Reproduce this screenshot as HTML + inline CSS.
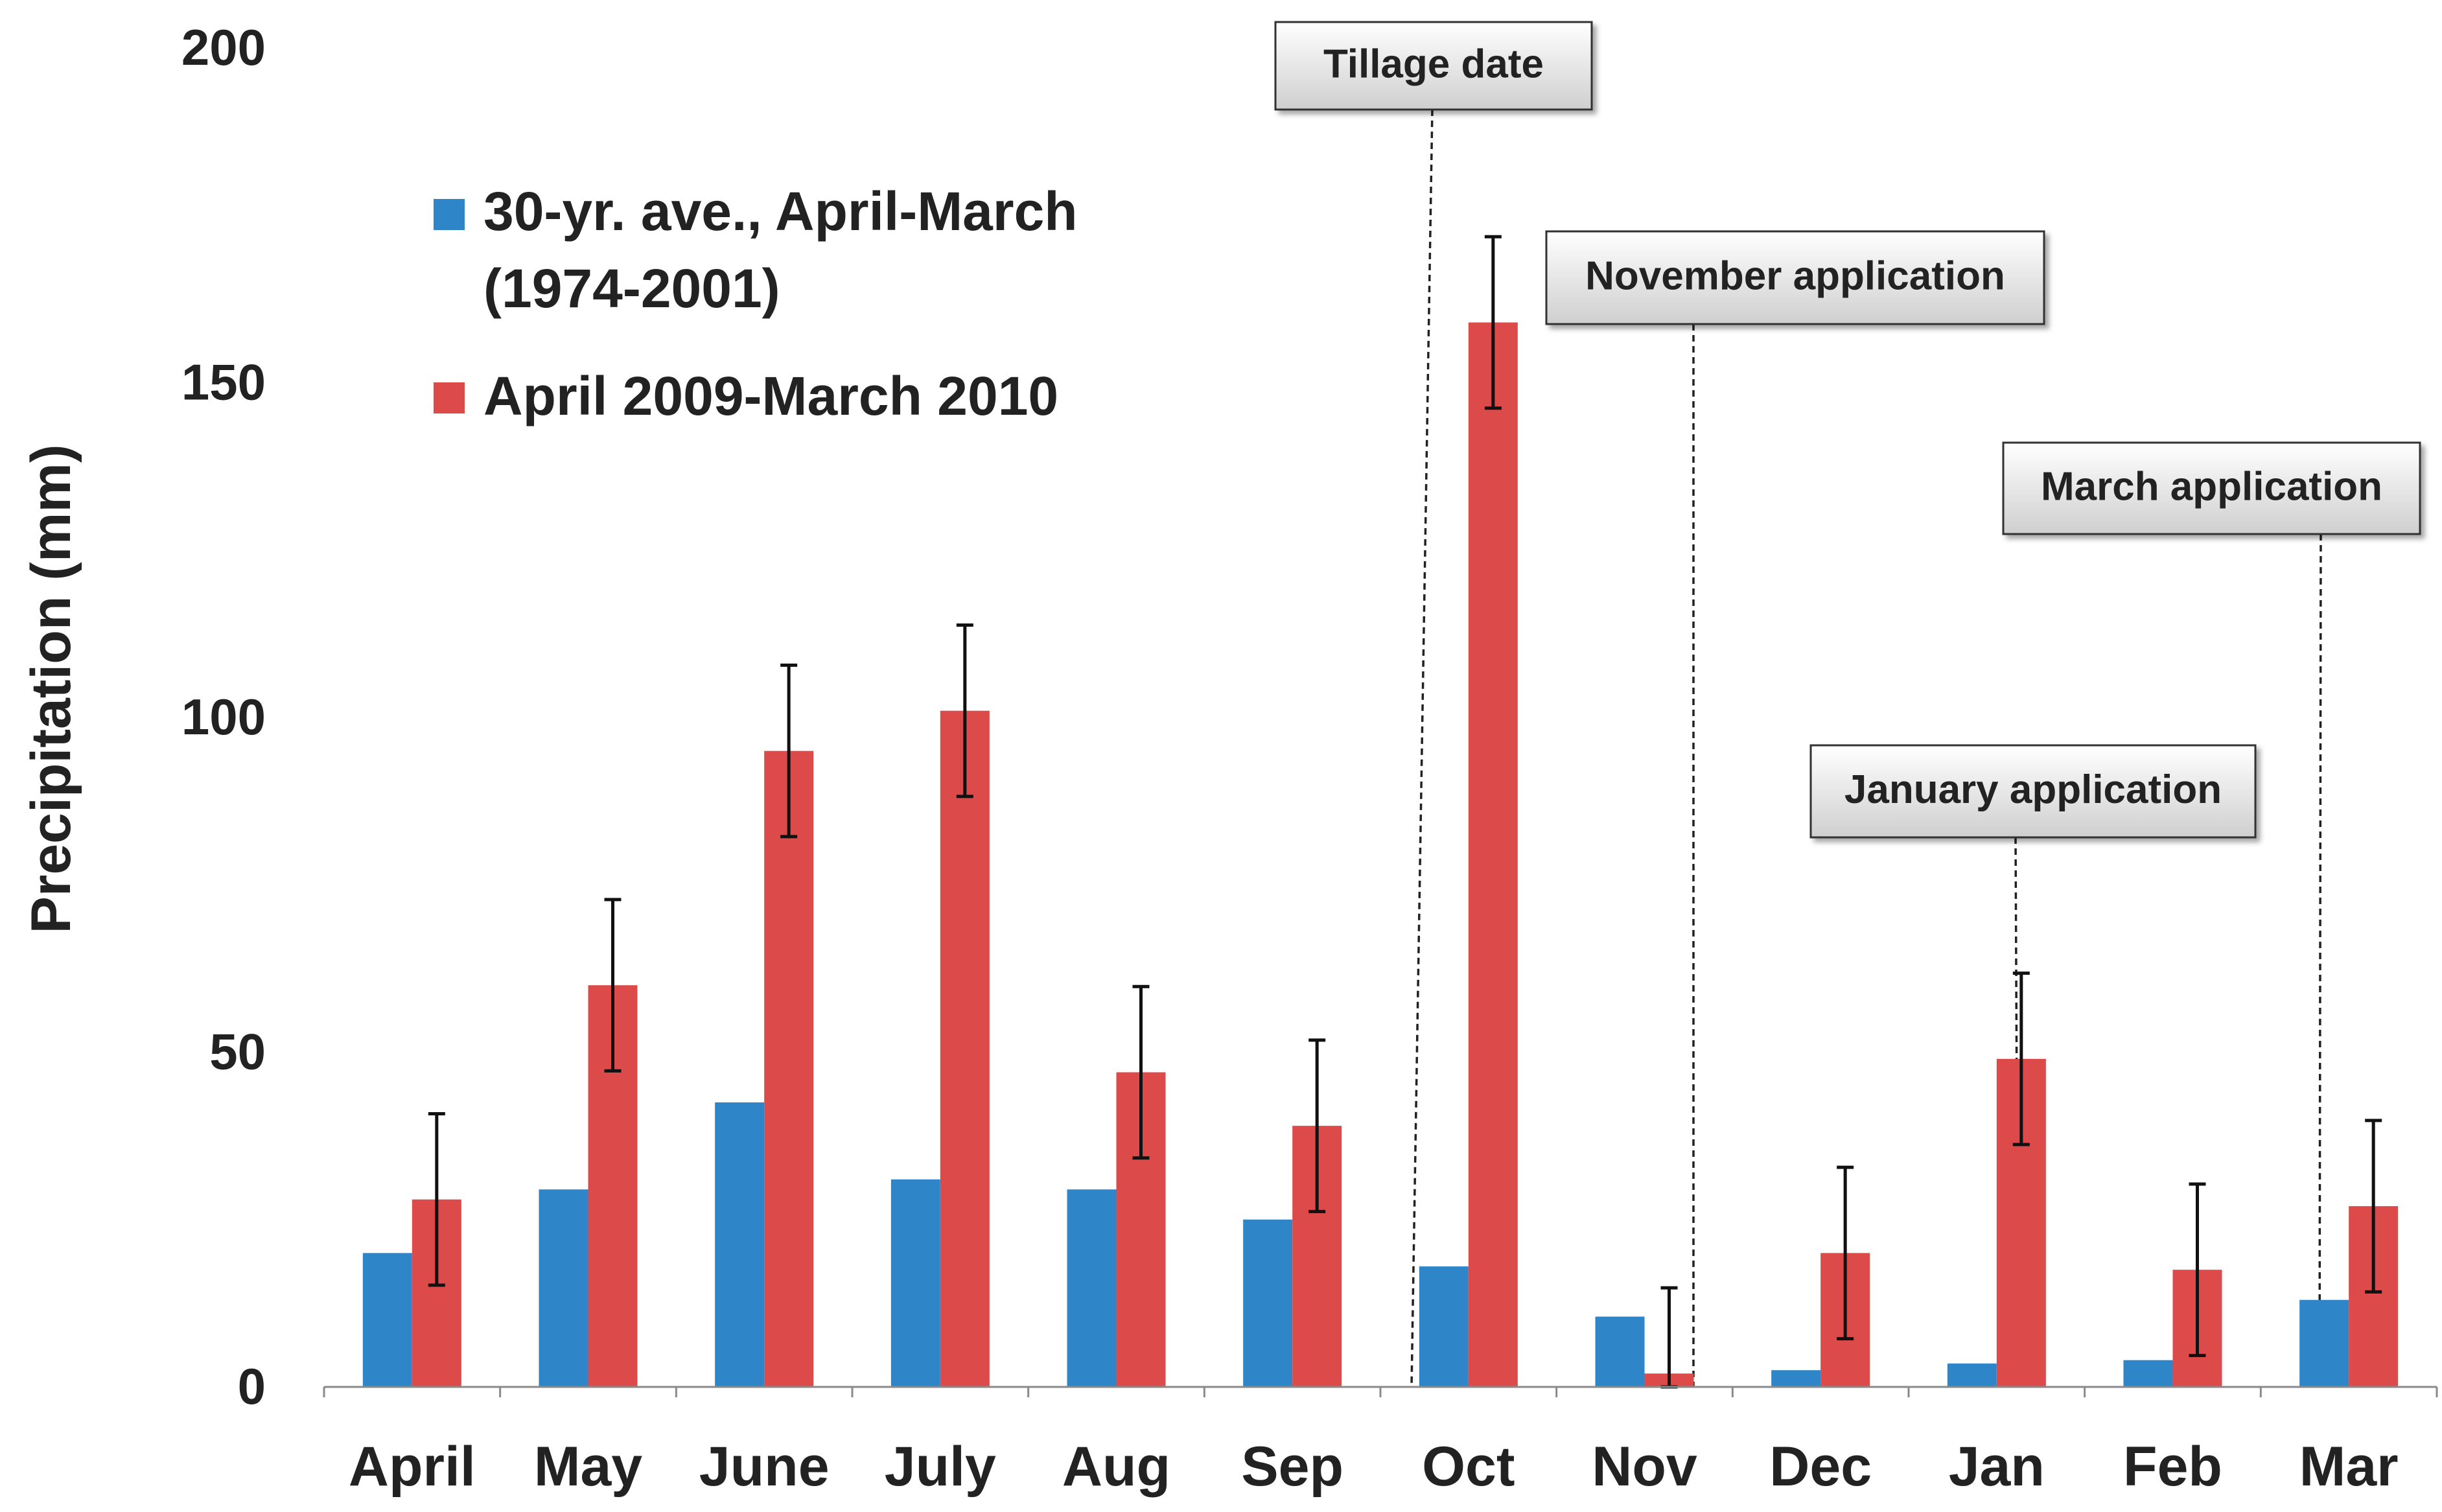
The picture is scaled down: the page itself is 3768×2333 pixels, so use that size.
<!DOCTYPE html>
<html><head><meta charset="utf-8"><style>
html,body{margin:0;padding:0;background:#fff;}
svg{display:block;font-family:"Liberation Sans",Arial,sans-serif;font-weight:bold;}
</style></head><body>
<svg id="chart" width="3768" height="2333" viewBox="0 0 3768 2333" xmlns="http://www.w3.org/2000/svg">
<defs>
<linearGradient id="boxg" x1="0" y1="0" x2="0" y2="1"><stop offset="0" stop-color="#ffffff"/><stop offset="1" stop-color="#cfcfcf"/></linearGradient>
<filter id="sh" x="-10%" y="-10%" width="130%" height="140%"><feDropShadow dx="6" dy="6" stdDeviation="4" flood-color="#000" flood-opacity="0.35"/></filter>
</defs>
<g id="annot"></g>
<g id="bars"></g>
<g id="axes"></g>
<g id="legend">
<rect x="669" y="307" width="48" height="48" fill="#2e86c9"/>
<text x="746" y="355" font-size="84" fill="#222">30-yr. ave., April-March</text>
<text x="746" y="474" font-size="84" fill="#222">(1974-2001)</text>
<rect x="669" y="590" width="48" height="48" fill="#dc4a4a"/>
<text x="746" y="640" font-size="84" fill="#222">April 2009-March 2010</text>
</g>
<text transform="translate(108,1063) rotate(-90)" text-anchor="middle" font-size="86" fill="#222">Precipitation (mm)</text>
</svg>
<script>
const categories=["April","May","June","July","Aug","Sep","Oct","Nov","Dec","Jan","Feb","Mar"];
const avgValues=[20,29.5,42.5,31,29.5,25,18,10.5,2.5,3.5,4,13];
const yearValues=[28,60,95,101,47,39,159,2,20,49,17.5,27];
const yearErrors=[12.8,12.8,12.8,12.8,12.8,12.8,12.8,12.8,12.8,12.8,12.8,12.8];
const yTicks=[0,50,100,150,200];
const annotLabels=["Tillage date","November application","January application","March application"];
const NS="http://www.w3.org/2000/svg";
const X0=500,X1=3760,Y0=2140,PX=10.33;
const catW=(X1-X0)/categories.length;
function y(v){return Y0-v*PX;}
function cx(i){return X0+catW*(i+0.5);}
function mk(tag,attrs,parent){const e=document.createElementNS(NS,tag);for(const k in attrs)e.setAttribute(k,attrs[k]);parent.appendChild(e);return e;}
const bars=document.getElementById('bars'),axes=document.getElementById('axes'),annot=document.getElementById('annot');
const BW=76;
categories.forEach((c,i)=>{
  let b=mk('rect',{x:cx(i)-BW,y:y(avgValues[i]),width:BW,height:Y0-y(avgValues[i]),fill:'#2e86c9'},bars);
  
  
  let r=mk('rect',{x:cx(i),y:y(yearValues[i]),width:BW,height:Y0-y(yearValues[i]),fill:'#dc4a4a'},bars);
  
  
  const ex=cx(i)+BW/2,hi=y(yearValues[i]+yearErrors[i]),lo=y(Math.max(0,yearValues[i]-yearErrors[i]));
  let eb=mk('path',{d:`M${ex},${hi}V${lo}M${ex-13},${hi}H${ex+13}M${ex-13},${lo}H${ex+13}`,stroke:'#111','stroke-width':5,fill:'none'},bars);
  
  
  let t=mk('text',{x:cx(i),y:2292,'text-anchor':'middle','font-size':86,fill:'#222'},axes);
  t.textContent=c;
  
  
});
let ax=mk('path',{d:`M${X0},${Y0}H${X1}`+categories.map((c,i)=>`M${X0+catW*i},${Y0}v16`).join('')+`M${X1},${Y0}v16`,stroke:'#8a8a8a','stroke-width':3,fill:'none'},axes);


yTicks.forEach(v=>{
  let t=mk('text',{x:410,y:y(v)+26,'text-anchor':'end','font-size':78,fill:'#222'},axes);
  t.textContent=v;
  
  
});
const boxes=[[1968,34,488,135,2210,2178],[2386,357,768,143,2613,2613],[2794,1150,686,142,3110,3114],[3091,683,643,141,3581,3579]];
boxes.forEach((b,i)=>{
  let l=mk('path',{d:`M${b[4]},${b[1]+b[3]}L${b[5]},${Y0}`,stroke:'#222','stroke-width':3.5,'stroke-dasharray':'10,7',fill:'none'},annot);
  
  
});
boxes.forEach((b,i)=>{
  let r=mk('rect',{x:b[0],y:b[1],width:b[2],height:b[3],fill:'url(#boxg)',stroke:'#333','stroke-width':3,filter:'url(#sh)'},document.getElementById('chart'));
  
  
  let t=mk('text',{x:b[0]+b[2]/2,y:b[1]+b[3]/2+18,'text-anchor':'middle','font-size':62,fill:'#222'},document.getElementById('chart'));
  t.textContent=annotLabels[i];
  
  
});
</script>
</body></html>
